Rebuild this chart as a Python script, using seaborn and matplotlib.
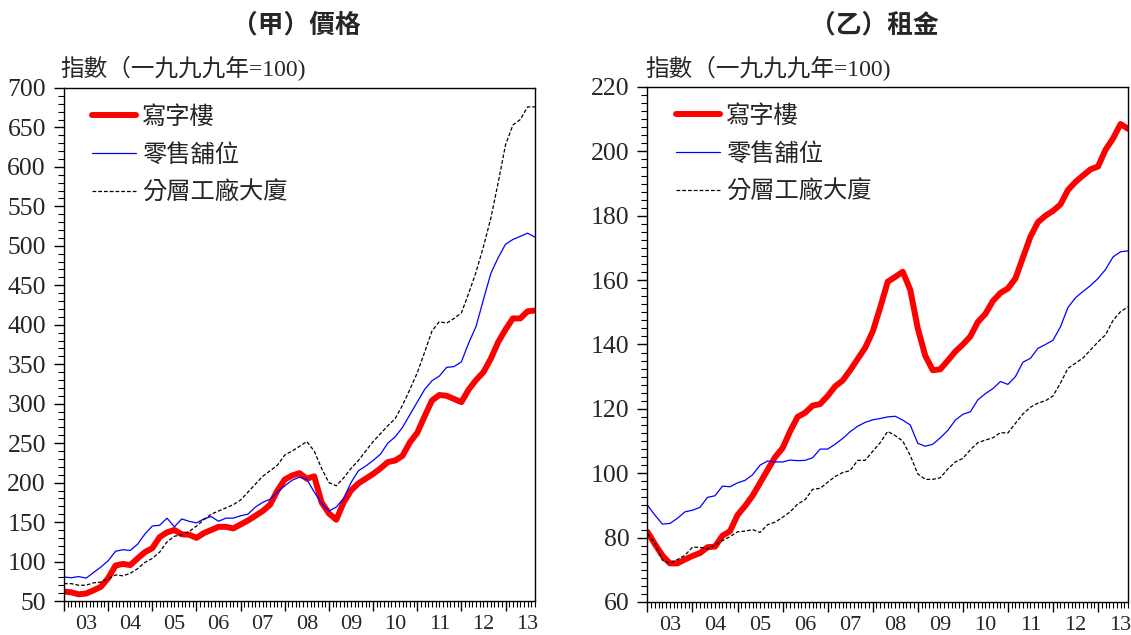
import numpy as np
import pandas as pd
import matplotlib
matplotlib.use("Agg")
import matplotlib.pyplot as plt
import seaborn as sns
from matplotlib.ticker import MultipleLocator

sns.set_style("ticks")
plt.rcParams['font.family'] = ['Liberation Serif', 'Noto Sans CJK TC']

# bimonthly readings, Jan 2003 - Sep 2013
months = pd.date_range("2003-01-01", "2013-09-01", freq="2MS")
t = months.year + (months.month - 1) / 12

office_price = [62, 61, 58.5, 59.5, 63.5, 68, 79, 95, 97, 95.5, 104, 112, 117, 131, 137, 140,
                134.5, 134, 130, 136, 140, 144, 144, 142, 147, 152, 158, 164, 172, 190, 204, 209,
                212, 205, 208, 175, 161, 153, 175, 190, 199, 205, 211, 218, 226, 228, 234, 251,
                263, 284, 304, 311, 310, 306, 302, 318, 330, 340, 357, 378, 394, 408, 408, 417, 418]
retail_price = [80.5, 79.5, 81, 79, 86, 93, 101, 113, 115, 114, 122, 135, 145, 146, 155, 144,
                154, 151, 149, 154, 157, 151, 155, 155, 158, 160, 169, 175, 179, 188, 196, 203,
                207, 204, 188, 174, 164, 169, 180, 200, 215, 221, 228, 236, 250, 258, 270, 286,
                302, 318, 329, 335, 346, 347, 353, 377, 398, 432, 465, 485, 502, 508, 512, 516, 511]
factory_price = [72, 72, 70, 70, 73, 74, 78, 83, 82, 85, 91, 99, 104, 112, 125, 132,
                 134, 138, 145, 153, 160, 164, 168, 172, 178, 188, 198, 208, 215, 222, 235, 240,
                 246, 252, 240, 218, 200, 196, 206, 218, 228, 240, 252, 262, 272, 281, 298, 318,
                 339, 365, 392, 404, 402, 408, 415, 440, 467, 499, 535, 580, 628, 653, 660, 676, 676]

office_rent = [81.8, 78, 74.4, 72, 72, 73.2, 74.3, 75.2, 77, 77.2, 80.6, 82, 87, 89.8, 93, 97,
               101, 105, 107.8, 113, 117.5, 118.8, 121, 121.5, 124, 127, 128.8, 132, 135.5, 139, 144, 151.5,
               159.5, 161, 162.6, 157, 145, 136.5, 132, 132.3, 135, 137.8, 140, 142.5, 147, 149.5, 153.5, 156,
               157.4, 160.5, 167, 173.5, 178, 180, 181.5, 183.5, 188, 190.5, 192.5, 194.4, 195.3, 200.5, 204, 208.5, 207]
retail_rent = [90.1, 87, 84.2, 84.4, 86, 88, 88.5, 89.4, 92.5, 93, 96, 95.8, 97, 97.8, 99.5, 102.5,
               103.8, 103.5, 103.5, 104.1, 103.9, 104, 104.8, 107.5, 107.5, 109, 110.8, 112.9, 114.6, 115.8, 116.6, 117,
               117.5, 117.7, 116.5, 115, 109.3, 108.4, 109, 111, 113.3, 116.5, 118.3, 119.1, 122.8, 124.7, 126.3, 128.5,
               127.6, 130, 134.5, 135.7, 138.8, 140, 141.3, 145.5, 151.5, 154.5, 156.5, 158.3, 160.5, 163.3, 167.2, 168.8, 169.1]
factory_rent = [81.3, 78.2, 73, 72, 73.2, 74.5, 77, 77, 76.5, 77.7, 79.1, 80.3, 81.8, 82, 82.5, 81.6,
                84, 84.8, 86.3, 88, 90.4, 91.8, 95, 95.3, 97.2, 99, 100.2, 100.8, 104, 104, 106.8, 109.5,
                113, 111.7, 110, 105.5, 99.8, 98.1, 98.1, 98.6, 101.3, 103.5, 104.6, 107.3, 109.5, 110.3, 111, 112.6,
                112.5, 115.5, 118.4, 120.5, 121.8, 122.5, 124, 128, 132.6, 134.2, 135.8, 138.3, 140.8, 143, 147.5, 150.2, 151.7]

years = np.arange(2003, 2014)
year_labels = [f"{y % 100:02d}" for y in years]
names = ['寫字樓', '零售舖位', '分層工廠大廈']

fig = plt.figure(figsize=(11.31, 6.35), dpi=100)
ax1 = fig.add_axes([0.0566, 0.0535, 0.4164, 0.808])
ax2 = fig.add_axes([0.5724, 0.052, 0.425, 0.811])


def draw(ax, office, retail, factory, ylim, major, minor):
    sns.lineplot(x=t, y=office, ax=ax, color='#ff0000', lw=4.3, label=names[0])
    sns.lineplot(x=t, y=retail, ax=ax, color='#0000ff', lw=0.9, label=names[1])
    sns.lineplot(x=t, y=factory, ax=ax, color='black', lw=0.9, linestyle=(0, (3, 1.6)), label=names[2])
    ax.set_xlim(t[0], t[-1])
    ax.set_ylim(*ylim)
    ax.yaxis.set_major_locator(MultipleLocator(major))
    ax.yaxis.set_minor_locator(MultipleLocator(minor))
    ax.set_xticks(years)
    ax.set_xticklabels([])
    ax.xaxis.set_minor_locator(MultipleLocator(1 / 12))
    ax.tick_params(axis='both', which='major', direction='out', length=7, width=1, color='black')
    ax.tick_params(axis='both', which='minor', direction='out', length=4, width=0.8, color='black')
    ax.tick_params(axis='y', labelsize=18.5, pad=6)
    for s in ax.spines.values():
        s.set_visible(True)
        s.set_color('black')
        s.set_linewidth(1.0)
    sec = ax.secondary_xaxis('bottom')
    sec.set_xticks(years + 0.5)
    sec.set_xticklabels(year_labels)
    sec.tick_params(length=0, labelsize=16, pad=10)
    sec.spines['bottom'].set_visible(False)
    ax.set_xlabel('')
    ax.set_ylabel('')
    ax.legend(loc='upper left', bbox_to_anchor=(0.06, 0.965), borderaxespad=0, borderpad=0,
              frameon=False, fontsize=17.5, handlelength=1.8, handletextpad=0.25, labelspacing=0.62)


draw(ax1, office_price, retail_price, factory_price, (50, 700), 50, 10)
draw(ax2, office_rent, retail_rent, factory_rent, (60, 220), 20, 2.5)

ylab = '指數（一九九九年=100)'
fig.text(60 / 1131, 1 - 68 / 635, ylab, ha='left', va='center', fontsize=17)
fig.text(645 / 1131, 1 - 68 / 635, ylab, ha='left', va='center', fontsize=17)
fig.text(296 / 1131, 1 - 25 / 635, '（甲）價格', ha='center', va='center', fontsize=18.5,
         fontweight='bold', family=['Noto Sans CJK TC'])
fig.text(874 / 1131, 1 - 25 / 635, '（乙）租金', ha='center', va='center', fontsize=18.5,
         fontweight='bold', family=['Noto Sans CJK TC'])

fig.savefig('out.png', dpi=100)
